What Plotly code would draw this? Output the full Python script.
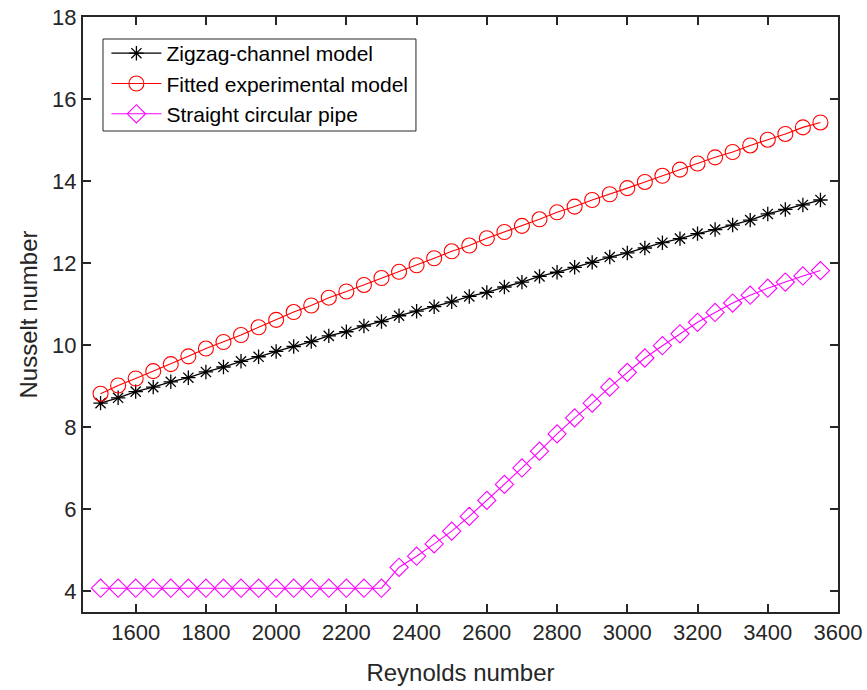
import plotly.graph_objects as go

reynolds = list(range(1500, 3551, 50))

zigzag = [8.59, 8.72, 8.87, 8.98, 9.11, 9.21, 9.35, 9.47, 9.61, 9.72, 9.85, 9.97,
          10.09, 10.23, 10.33, 10.47, 10.58, 10.72, 10.83, 10.94, 11.06, 11.19,
          11.29, 11.42, 11.54, 11.68, 11.78, 11.90, 12.02, 12.15, 12.25, 12.37,
          12.50, 12.60, 12.72, 12.82, 12.93, 13.05, 13.20, 13.31, 13.42, 13.54]

fitted = [8.82, 9.02, 9.19, 9.37, 9.54, 9.73, 9.92, 10.08, 10.25, 10.44, 10.62,
          10.81, 10.97, 11.16, 11.31, 11.47, 11.64, 11.79, 11.95, 12.12, 12.29,
          12.43, 12.61, 12.76, 12.91, 13.07, 13.24, 13.38, 13.54, 13.68, 13.83,
          13.98, 14.13, 14.28, 14.43, 14.58, 14.71, 14.87, 15.01, 15.15, 15.31, 15.43]

straight = [4.08] * 17 + [4.59, 4.86, 5.16, 5.47, 5.83, 6.22, 6.61, 7.01, 7.42,
                          7.84, 8.23, 8.59, 8.98, 9.34, 9.69, 9.99, 10.28, 10.56,
                          10.80, 11.03, 11.22, 11.39, 11.54, 11.69, 11.82]

series_names = ["Zigzag-channel model", "Fitted experimental model", "Straight circular pipe"]
x_ticks = list(range(1600, 3601, 200))
y_ticks = list(range(4, 19, 2))

font_family = "Liberation Sans, Arial, sans-serif"
axis_color = "#262626"

fig = go.Figure()
fig.add_trace(go.Scatter(
    x=reynolds, y=zigzag, name=series_names[0], mode="lines+markers",
    line=dict(color="black", width=1.3),
    marker=dict(symbol="asterisk-open", size=12, color="black",
                line=dict(color="black", width=1.3)),
))
fig.add_trace(go.Scatter(
    x=reynolds, y=fitted, name=series_names[1], mode="lines+markers",
    line=dict(color="#ff0000", width=1.1),
    marker=dict(symbol="circle-open", size=15, color="#ff0000",
                line=dict(color="#ff0000", width=1.1)),
))
fig.add_trace(go.Scatter(
    x=reynolds, y=straight, name=series_names[2], mode="lines+markers",
    line=dict(color="#ff00ff", width=1.1),
    marker=dict(symbol="diamond-open", size=14, color="#ff00ff",
                line=dict(color="#ff00ff", width=1.1)),
))

axis_common = dict(
    showline=True, linecolor=axis_color, linewidth=2, mirror="ticks",
    ticks="inside", ticklen=8, tickwidth=1.5, tickcolor=axis_color,
    showgrid=False, zeroline=False, automargin=False,
    ticklabeloverflow="allow",
    tickfont=dict(family=font_family, size=22, color=axis_color),
)

fig.update_layout(
    width=867, height=690,
    margin=dict(l=83, r=29, t=17, b=78),
    paper_bgcolor="white", plot_bgcolor="white",
    font=dict(family=font_family, color=axis_color),
    xaxis=dict(range=[1450, 3600], tickvals=x_ticks,
               title=dict(text="Reynolds number", font=dict(size=24, family=font_family, color=axis_color), standoff=20),
               **axis_common),
    yaxis=dict(range=[3.5, 18], tickvals=y_ticks,
               title=dict(text="Nusselt number", font=dict(size=24, family=font_family, color=axis_color), standoff=8),
               **axis_common),
    legend=dict(x=0.031, y=0.973, xanchor="left", yanchor="top",
                bgcolor="rgba(0,0,0,0)", borderwidth=0,
                font=dict(family=font_family, size=21, color="black"),
                itemwidth=50, tracegroupgap=0),
    shapes=[dict(type="rect", xref="paper", yref="paper",
                 x0=0.0265, x1=0.441, y0=0.8084, y1=0.963,
                 line=dict(color=axis_color, width=1), fillcolor="white", layer="above")],
    showlegend=True,
)

# Remove the browser's default 8px body margin so the figure sits at the page origin.
fig.write_html("out.html", config={"displayModeBar": False},
               post_script="document.body.style.margin='0px';")
